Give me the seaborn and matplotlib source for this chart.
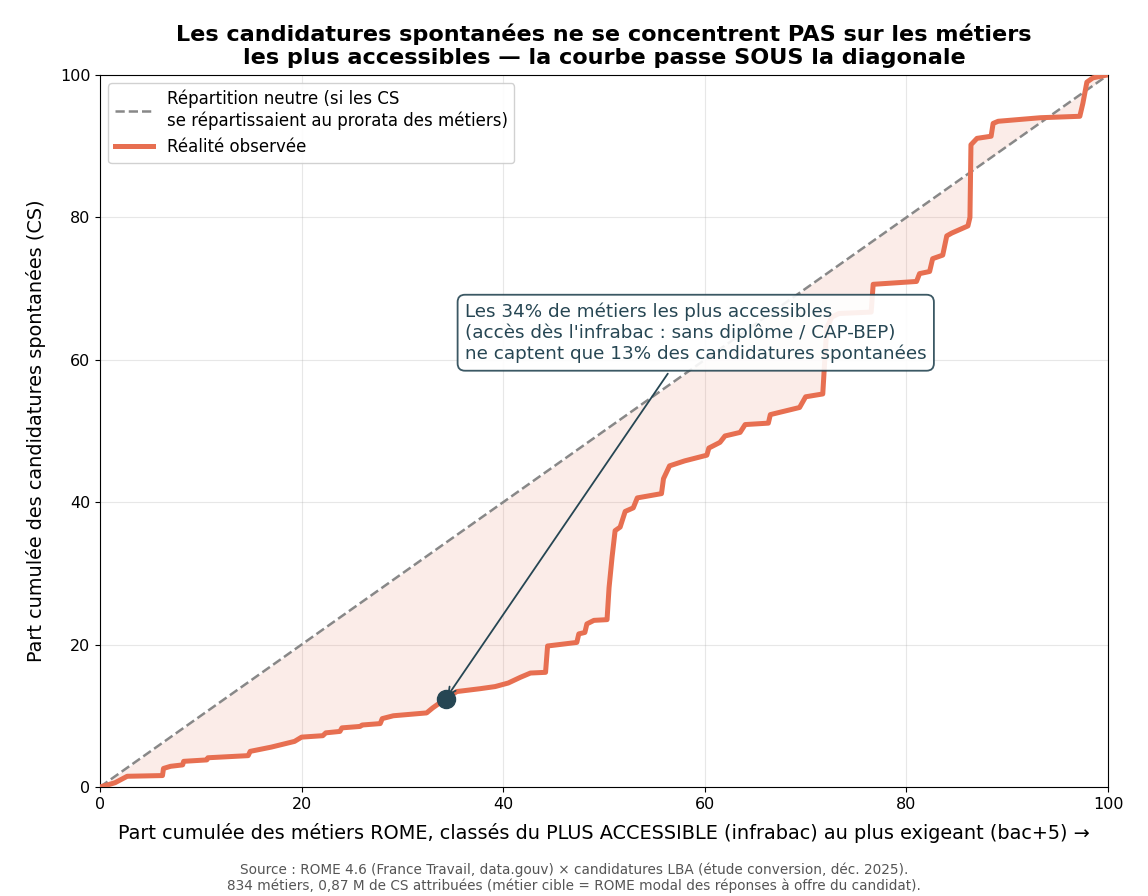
import matplotlib
matplotlib.use("Agg")
import matplotlib.pyplot as plt
import seaborn as sns
import pandas as pd

# --- Données (courbe cumulée CS vs métiers) ---
part_metiers = [0, 0.8, 1.5, 2.7, 6.2, 6.3, 7.0, 8.2, 8.3, 10.6, 10.7, 14.7, 14.9, 17.0,
                19.3, 20.0, 22.1, 22.4, 23.8, 24.0, 25.8, 26.0, 27.8, 28.0, 29.1, 32.4,
                33.0, 34.3, 35.4, 37.7, 39.2, 40.5, 41.7, 42.7, 44.2, 44.4, 47.3, 47.5,
                48.1, 48.3, 49.0, 50.3, 50.5, 50.8, 51.1, 51.6, 52.1, 52.9, 53.3, 55.7,
                55.9, 56.5, 58.0, 60.2, 60.4, 61.5, 62.0, 63.5, 64.0, 66.3, 66.5, 69.4,
                70.0, 71.7, 71.9, 72.1, 72.6, 73.3, 76.5, 76.7, 81.0, 81.3, 82.3, 82.6,
                83.6, 84.0, 84.5, 86.1, 86.3, 86.4, 87.0, 88.4, 88.6, 89.1, 93.3, 97.2,
                97.5, 97.9, 98.5, 99.9, 100]
part_cs = [0, 0.3, 0.6, 1.5, 1.6, 2.6, 2.9, 3.1, 3.6, 3.8, 4.1, 4.4, 5.0, 5.6,
           6.4, 7.0, 7.2, 7.6, 7.8, 8.3, 8.5, 8.7, 8.9, 9.6, 10.0, 10.4,
           11.1, 12.4, 13.4, 13.8, 14.1, 14.6, 15.4, 16.0, 16.1, 19.8, 20.3, 21.5,
           21.7, 22.9, 23.4, 23.5, 28.0, 32.3, 36.0, 36.5, 38.7, 39.2, 40.6, 41.2,
           43.3, 45.1, 45.8, 46.6, 47.6, 48.4, 49.3, 49.8, 50.9, 51.1, 52.3, 53.3,
           54.8, 55.2, 60.0, 64.5, 66.0, 66.5, 66.7, 70.6, 71.0, 72.1, 72.4, 74.2,
           74.7, 77.4, 77.8, 78.8, 80.0, 90.2, 91.1, 91.4, 93.2, 93.5, 94.0, 94.2,
           96.0, 99.0, 99.6, 100, 100]
diag = [0, 100]
point_x, point_y = 34.3, 12.4

COL_CS = "#E76F51"
COL_DARK = "#264653"

df = pd.DataFrame({"x": part_metiers, "y": part_cs})

plt.rcParams["font.family"] = ["DejaVu Sans"]
fig, ax = plt.subplots(figsize=(11.48, 8.96), dpi=100)
fig.subplots_adjust(left=0.0871, right=0.9652, top=0.9163, bottom=0.1217)

ax.fill_between(df["x"], df["y"], df["x"], color=COL_CS, alpha=0.13, linewidth=0, zorder=1)
sns.lineplot(x=diag, y=diag, ax=ax, color="#888888", linestyle="--", linewidth=1.8,
             label="Répartition neutre (si les CS\nse répartissaient au prorata des métiers)",
             zorder=2)
sns.lineplot(data=df, x="x", y="y", ax=ax, color=COL_CS, linewidth=3.6, sort=False,
             estimator=None, label="Réalité observée", zorder=3)
ax.plot([point_x], [point_y], "o", color=COL_DARK, markersize=13, zorder=5)

ax.annotate("Les 34% de métiers les plus accessibles\n(accès dès l'infrabac : sans diplôme / CAP-BEP)\nne captent que 13% des candidatures spontanées",
            xy=(point_x, point_y), xytext=(59.1, 63.8), textcoords="data",
            ha="center", va="center", multialignment="left", fontsize=13.2, color=COL_DARK,
            bbox=dict(boxstyle="round,pad=0.4", facecolor="white", edgecolor=COL_DARK,
                      linewidth=1.3, alpha=0.9),
            arrowprops=dict(arrowstyle="->", color=COL_DARK, linewidth=1.3), zorder=6)

ax.set_xlim(0, 100)
ax.set_ylim(0, 100)
ax.set_xticks([0, 20, 40, 60, 80, 100])
ax.set_yticks([0, 20, 40, 60, 80, 100])
ax.tick_params(labelsize=11.5)
ax.grid(True, alpha=0.3)
ax.set_axisbelow(True)

ax.set_xlabel("Part cumulée des métiers ROME, classés du PLUS ACCESSIBLE (infrabac) au plus exigeant (bac+5) →",
              fontsize=13.9, labelpad=8)
ax.set_ylabel("Part cumulée des candidatures spontanées (CS)", fontsize=13.9, labelpad=10)
ax.set_title("Les candidatures spontanées ne se concentrent PAS sur les métiers\nles plus accessibles — la courbe passe SOUS la diagonale",
             fontsize=16.1, fontweight="bold", pad=8)
ax.legend(loc="upper left", fontsize=12, handlelength=2.3, framealpha=0.9)

fig.text(0.5, 0.003, "Source : ROME 4.6 (France Travail, data.gouv) × candidatures LBA (étude conversion, déc. 2025).\n834 métiers, 0,87 M de CS attribuées (métier cible = ROME modal des réponses à offre du candidat).",
         ha="center", va="bottom", fontsize=9.8, color="#555555")

fig.savefig("out.png", dpi=100)
